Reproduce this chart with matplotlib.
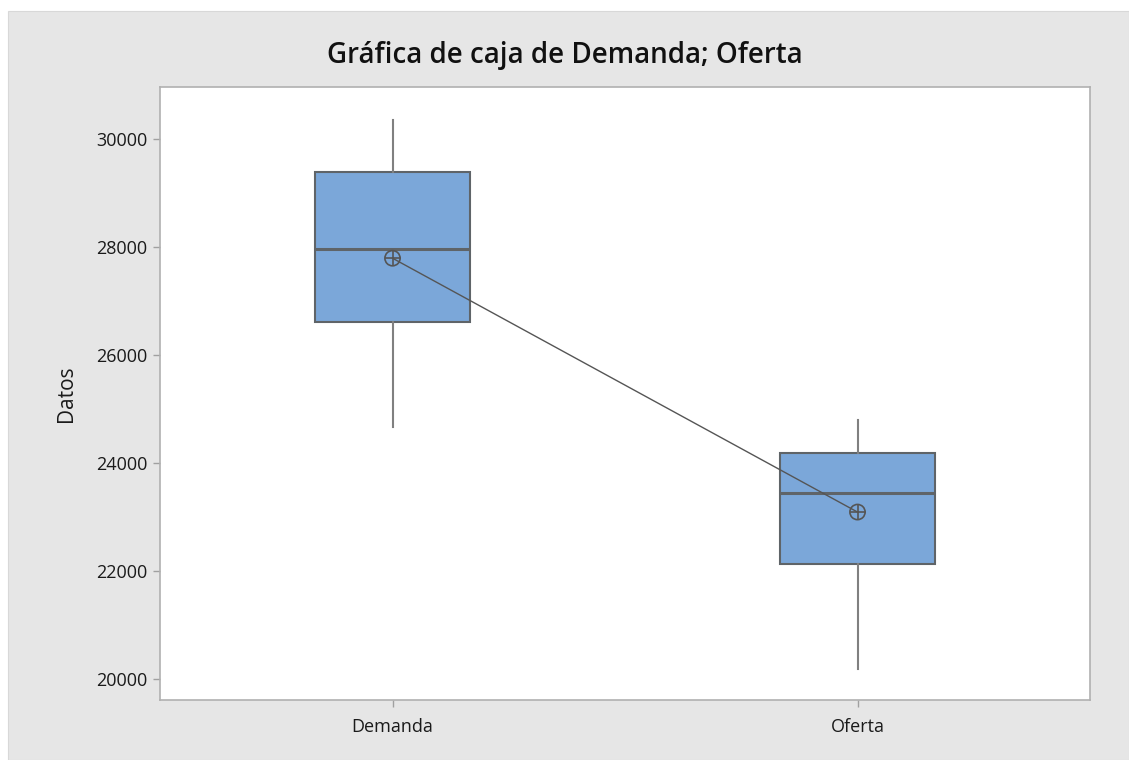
import matplotlib
matplotlib.use("Agg")
import matplotlib.pyplot as plt
from matplotlib.patches import Rectangle

categories = ["Demanda", "Oferta"]
whisker_low = [24670, 20190]
q1 = [26610, 22140]
median = [27970, 23450]
q3 = [29390, 24200]
whisker_high = [30360, 24810]
means = [27800, 23100]
yticks = [20000, 22000, 24000, 26000, 28000, 30000]

plt.rcParams['font.family'] = ['Open Sans', 'DejaVu Sans']

W, H = 1129, 760
fig = plt.figure(figsize=(W / 100, H / 100), dpi=100)
fig.patch.set_facecolor('white')
fig.patches.append(Rectangle((8 / W, 0), 1 - 8 / W, (H - 11) / H,
                             transform=fig.transFigure, facecolor='#e6e6e6',
                             edgecolor='#d8d8d8', lw=0.8, zorder=-10))

ax = fig.add_axes([160 / W, 1 - 700 / H, (1090 - 160) / W, (700 - 87) / H])
ax.set_facecolor('white')

stats = []
for i, c in enumerate(categories):
    stats.append(dict(label=c, whislo=whisker_low[i], q1=q1[i], med=median[i],
                      q3=q3[i], whishi=whisker_high[i], fliers=[]))
pos = list(range(1, len(categories) + 1))
ax.bxp(stats, positions=pos, widths=0.333, patch_artist=True, showcaps=False,
       showfliers=False,
       boxprops=dict(facecolor='#7ba7d9', edgecolor='#5f6468', linewidth=1.5),
       medianprops=dict(color='#5f6468', linewidth=2.2),
       whiskerprops=dict(color='#808080', linewidth=1.5))

ax.plot(pos, means, color='#555555', lw=1.0, zorder=5)
ax.scatter(pos, means, s=120, facecolors='none', edgecolors='#555555',
           linewidths=1.2, zorder=6)
ax.scatter(pos, means, s=120, marker='+', color='#555555', linewidths=1.2, zorder=6)

ax.set_xlim(0.5, 2.5)
ax.set_ylim(19620, 30970)
ax.set_yticks(yticks)
ax.set_yticklabels([str(t) for t in yticks])
ax.set_xticks(pos)
ax.set_xticklabels(categories)
ax.tick_params(axis='both', colors='#a0a0a0', labelcolor='#1a1a1a',
               labelsize=13, length=5, width=1)
ax.tick_params(axis='x', pad=8)
ax.tick_params(axis='y', pad=4)
for s in ax.spines.values():
    s.set_color('#b0b0b0')
    s.set_linewidth(1.2)

ax.set_ylabel('Datos', fontsize=15, color='#1a1a1a', labelpad=14)
fig.text(565 / W, 1 - 55 / H, 'Gráfica de caja de Demanda; Oferta',
         ha='center', va='center', fontsize=20, fontweight='semibold', color='#111111')

fig.savefig('out.png', dpi=100, facecolor=fig.get_facecolor())
